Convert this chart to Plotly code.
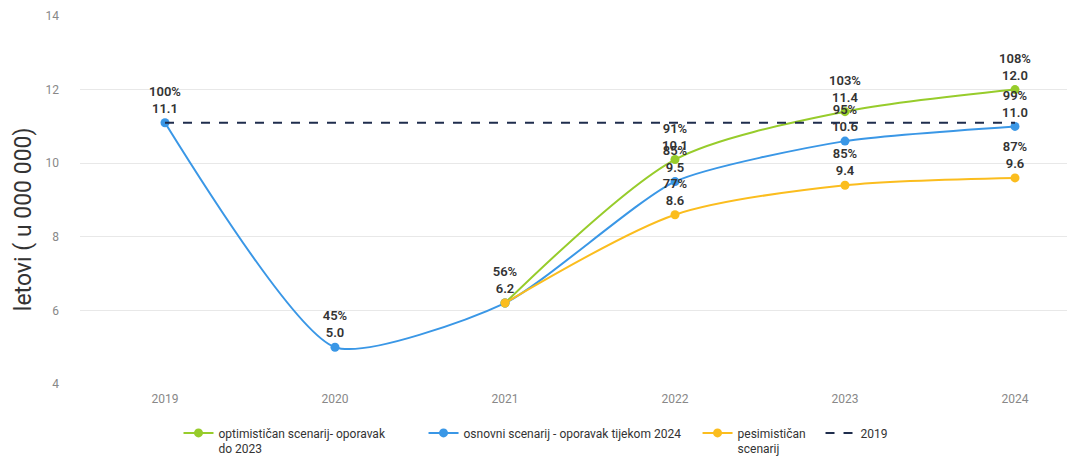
import plotly.graph_objects as go

years = ["2019", "2020", "2021", "2022", "2023", "2024"]

# optimisticni scenarij (od 2021)
opt_years = ["2021", "2022", "2023", "2024"]
opt_vals = [6.2, 10.1, 11.4, 12.0]
opt_pct = ["", "91%", "103%", "108%"]

# osnovni scenarij
base_vals = [11.1, 5.0, 6.2, 9.5, 10.6, 11.0]
base_pct = ["100%", "45%", "56%", "85%", "95%", "99%"]

# pesimisticni scenarij (od 2021)
pes_years = ["2021", "2022", "2023", "2024"]
pes_vals = [6.2, 8.6, 9.4, 9.6]
pes_pct = ["", "77%", "85%", "87%"]

ref_2019 = [11.1] * len(years)

x_idx = {y: i for i, y in enumerate(years)}


def labels(vals, pct):
    return [f"{p}<br>{v:.1f}" if p else "" for v, p in zip(vals, pct)]


fig = go.Figure()

label_font = dict(family="Roboto, Arial", size=13, color="#333333", weight=600)

fig.add_trace(go.Scatter(
    x=[x_idx[y] for y in opt_years], y=opt_vals,
    name="optimističan scenarij- oporavak<br>do 2023",
    mode="lines+markers+text",
    line=dict(color="#97cc2b", width=2, shape="spline", smoothing=0.8),
    marker=dict(size=9, color="#97cc2b"),
    text=labels(opt_vals, opt_pct), textposition="top center",
    textfont=label_font, legend="legend",
))

fig.add_trace(go.Scatter(
    x=[x_idx[y] for y in years], y=base_vals,
    name="osnovni scenarij - oporavak tijekom 2024",
    mode="lines+markers+text",
    line=dict(color="#3a97e6", width=2, shape="spline", smoothing=0.6),
    marker=dict(size=9, color="#3a97e6"),
    text=labels(base_vals, base_pct), textposition="top center",
    textfont=label_font, legend="legend2",
))

fig.add_trace(go.Scatter(
    x=[x_idx[y] for y in pes_years], y=pes_vals,
    name="pesimističan<br>scenarij",
    mode="lines+markers+text",
    line=dict(color="#fbbd1e", width=2, shape="spline", smoothing=0.8),
    marker=dict(size=9, color="#fbbd1e"),
    text=labels(pes_vals, pes_pct), textposition="top center",
    textfont=label_font, legend="legend3",
))

fig.add_trace(go.Scatter(
    x=[x_idx[y] for y in years], y=ref_2019,
    name="2019",
    mode="lines",
    line=dict(color="#1f2d4d", width=2, dash="dash"),
    legend="legend4",
))

leg = dict(orientation="h", y=-0.094, xanchor="left", yanchor="top",
           valign="top", font=dict(size=12, color="#333333"),
           bgcolor="rgba(0,0,0,0)")

fig.update_layout(
    width=1075, height=456,
    margin=dict(l=72, r=0, t=8, b=80, autoexpand=False),
    plot_bgcolor="white", paper_bgcolor="white",
    font=dict(family="Roboto, Arial", color="#333333"),
    showlegend=True,
    legend=dict(leg, x=0.0982),
    legend2=dict(leg, x=0.3425),
    legend3=dict(leg, x=0.6157),
    legend4=dict(leg, x=0.7383),
    annotations=[dict(
        text="letovi ( u 000 000)", textangle=-90,
        xref="paper", yref="paper", x=-0.0568, y=0.448,
        xanchor="center", yanchor="middle", showarrow=False,
        font=dict(size=23, color="#333333"),
    )],
)

fig.update_xaxes(
    tickvals=list(range(len(years))), ticktext=years,
    range=[-0.5, 5.4], automargin=False,
    showgrid=False, zeroline=False, showline=False,
    tickfont=dict(size=12, color="#888888"),
    ticklabelstandoff=6,
)

fig.update_yaxes(
    range=[4, 14], dtick=2, automargin=False,
    showgrid=True, gridcolor="#e8e8e8", gridwidth=1,
    zeroline=False, showline=False,
    tickfont=dict(size=12, color="#888888"),
    ticklabelstandoff=20,
)

fig.write_html("out.html")
